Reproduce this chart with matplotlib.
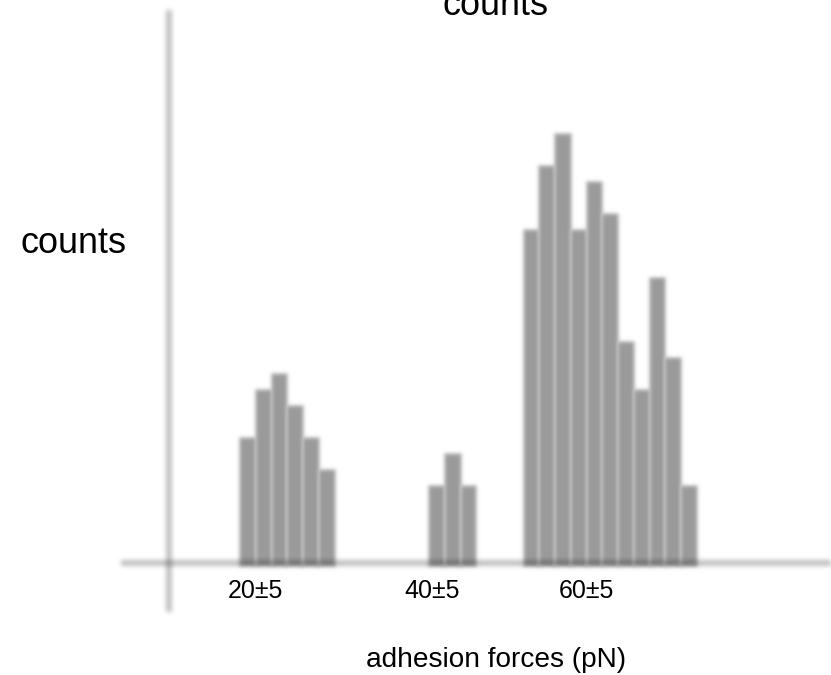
import numpy as np
import matplotlib
matplotlib.use("Agg")
import matplotlib.pyplot as plt

# Histogram of adhesion forces: three populations of bins
left_bins = [0, 1, 2, 3, 4, 5]
left_counts = [8, 11, 12, 10, 8, 6]
mid_bins = [12, 13, 14]
mid_counts = [5, 7, 5]
right_bins = [18, 19, 20, 21, 22, 23, 24, 25, 26, 27, 28]
right_counts = [21, 25, 27, 21, 24, 22, 14, 11, 18, 13, 5]

tick_labels = ["20±5", "40±5", "60±5"]
tick_pos = [0.95, 12.2, 22.0]

W, H, DPI = 831, 675, 100
plt.rcParams["font.family"] = ["Liberation Sans", "DejaVu Sans"]


def _blur_axis(arr, kernel, offsets, axis):
    out = np.zeros_like(arr)
    for off, w in zip(offsets, kernel):
        out += w * np.roll(arr, off, axis=axis)
    return out


def gaussian_blur(sigma):
    """agg_filter that softens an artist with a premultiplied gaussian blur."""
    def _filter(im, dpi):
        pad = int(3 * sigma) + 2
        padded = np.pad(im, ((pad, pad), (pad, pad), (0, 0)))
        r = np.arange(-pad, pad + 1)
        k = np.exp(-0.5 * (r / sigma) ** 2)
        k /= k.sum()
        alpha = padded[..., 3:4]
        pre = np.concatenate([padded[..., :3] * alpha, alpha], axis=2)
        pre = _blur_axis(pre, k, r, 0)
        pre = _blur_axis(pre, k, r, 1)
        a = pre[..., 3:4]
        rgb = np.where(a > 1e-6, pre[..., :3] / np.maximum(a, 1e-6), 0.0)
        out = np.concatenate([np.clip(rgb, 0, 1), np.clip(a, 0, 1)], axis=2)
        return out, -pad, -pad
    return _filter


fig = plt.figure(figsize=(W / DPI, H / DPI), dpi=DPI)
ax = fig.add_axes([0, 0, 1, 1])
ax.set_axis_off()

px_per_bin = 15.75
px_per_count = 16.0
x0_px = 240.0
base_px = 566.0
ax.set_xlim(-x0_px / px_per_bin, (W - x0_px) / px_per_bin)
ax.set_ylim(-(H - base_px) / px_per_count, base_px / px_per_count)

blur = gaussian_blur(1.8)

for bins, counts in [(left_bins, left_counts), (mid_bins, mid_counts),
                     (right_bins, right_counts)]:
    bars = ax.bar(bins, counts, width=1.0, align="edge",
                  color="#9a9a9a", edgecolor="#bdbdbd", linewidth=1.3,
                  zorder=2)
    for b in bars:
        b.set_agg_filter(blur)

# Cross-shaped axes lines, semi-transparent so the crossing is darker
x_axis_y = 0.2
y_axis_x = (169 - x0_px) / px_per_bin
lx, = ax.plot([(121 - x0_px) / px_per_bin, (W - x0_px) / px_per_bin + 1],
              [x_axis_y, x_axis_y], color="black", alpha=0.25,
              linewidth=4.3, solid_capstyle="butt", zorder=3)
ly, = ax.plot([y_axis_x, y_axis_x],
              [(base_px - 612) / px_per_count, (base_px - 10) / px_per_count],
              color="black", alpha=0.25, linewidth=4.3,
              solid_capstyle="butt", zorder=3)
lx.set_agg_filter(gaussian_blur(2.3))
ly.set_agg_filter(gaussian_blur(2.3))

for pos, lab in zip(tick_pos, tick_labels):
    ax.text(pos, (base_px - 598) / px_per_count, lab, ha="center",
            va="baseline", fontsize=25 * 72 / DPI, color="black")

fig.text(495 / W, 1 - 15 / H, "counts", ha="center", va="baseline",
         fontsize=36 * 72 / DPI)
fig.text(21 / W, 1 - 253 / H, "counts", ha="left", va="baseline",
         fontsize=36 * 72 / DPI)
fig.text(496 / W, 1 - 667 / H, "adhesion forces (pN)", ha="center",
         va="baseline", fontsize=28 * 72 / DPI)

fig.savefig("out.png", dpi=DPI)
